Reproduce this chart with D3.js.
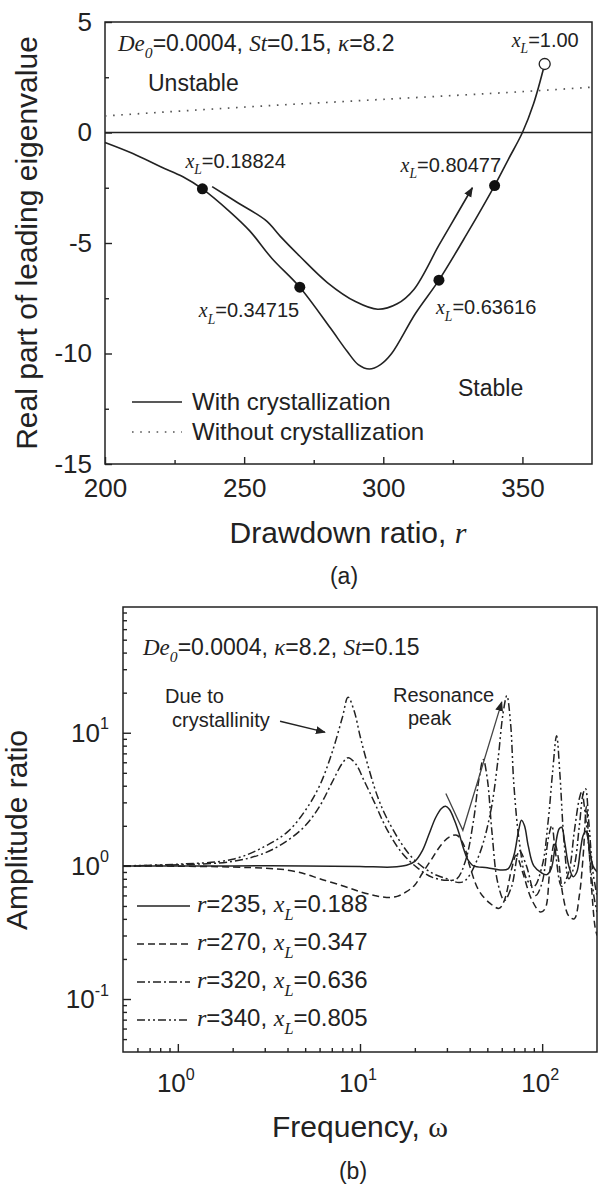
<!DOCTYPE html>
<html>
<head>
<meta charset="utf-8">
<script src="https://cdn.jsdelivr.net/npm/d3@7"></script>
<style>
  body { margin: 0; background: #fff; }
  svg text { font-family: "Liberation Sans", Arial, sans-serif; fill: #222; }
  svg .it { font-family: "Liberation Serif", "Times New Roman", serif; font-style: italic; }
  svg .serif { font-family: "Liberation Serif", "Times New Roman", serif; }
</style>
</head>
<body>
<svg id="fig" width="600" height="1185"></svg>
<script>
// ---- panel (a): leading eigenvalue vs drawdown ratio ----
const rLower = [200, 210, 220, 228, 235, 245, 252, 260, 270, 281, 287, 291, 295, 299, 303, 311.5, 320, 330, 340, 345, 350, 354, 358];
const eigLower = [-0.45, -0.95, -1.55, -2.0, -2.55, -3.6, -4.45, -5.7, -7.0, -8.85, -9.9, -10.5, -10.7, -10.5, -10.0, -8.2, -6.68, -4.6, -2.4, -1.2, 0, 1.3, 3.1];
const rUpper = [238.5, 248, 258, 263, 270, 280, 290, 298, 305, 311, 320, 326, 332];
const eigUpper = [-2.45, -3.2, -4.0, -4.7, -5.6, -6.8, -7.65, -8.0, -7.75, -7.1, -5.1, -3.8, -2.5];
const rNoCrys = [200, 250, 300, 350, 375];
const eigNoCrys = [0.75, 1.15, 1.5, 1.85, 2.05];
const markR = [235, 270, 320, 340];
const markEig = [-2.55, -7.0, -6.68, -2.4];
const markXL = ['0.18824', '0.34715', '0.63616', '0.80477'];
const endR = 358, endEig = 3.1, endXL = '1.00';
const rTicks = [200, 250, 300, 350];
const rMinor = [225, 275, 325];
const eigTicks = [-15, -10, -5, 0, 5];
const eigMinor = [-12.5, -7.5, -2.5, 2.5];

// ---- panel (b): amplitude ratio vs frequency ----
const omegaTicks = [1, 10, 100];
const ampTicks = [0.1, 1, 10];
const ampR235 = [[0.5, 1.0], [1, 1.0], [2, 1.0], [5, 1.0], [10, 0.99], [15, 0.98], [18, 1.01], [20, 1.08], [22, 1.3], [24, 1.75], [26, 2.3], [28, 2.7], [29.5, 2.8], [31, 2.65], [33, 2.2], [35, 1.75], [37, 1.35], [39, 1.12], [42, 1.0], [50, 0.97], [60, 0.93], [65, 0.95], [70, 1.2], [74, 1.8], [77, 2.2], [80, 2.0], [84, 1.4], [90, 1.0], [100, 0.88], [106, 0.86], [112, 0.95], [118, 1.4], [124, 1.9], [128, 1.95], [133, 1.5], [140, 1.0], [148, 0.83], [155, 0.9], [162, 1.3], [168, 1.7], [174, 1.82], [180, 1.5], [190, 1.0], [200, 0.9]];
const ampR270 = [[0.5, 1.0], [1, 0.995], [2, 0.98], [3, 0.96], [4, 0.93], [5, 0.87], [6, 0.8], [8, 0.71], [10, 0.64], [12, 0.6], [14, 0.58], [16, 0.59], [18, 0.64], [20, 0.72], [22, 0.88], [25, 1.15], [28, 1.45], [31, 1.65], [34, 1.7], [37, 1.45], [40, 1.0], [45, 0.65], [52, 0.52], [58, 0.48], [62, 0.55], [68, 0.95], [72, 1.2], [78, 0.9], [88, 0.55], [98, 0.45], [104, 0.48], [110, 0.9], [117, 1.5], [122, 1.2], [130, 0.6], [140, 0.42], [150, 0.4], [160, 0.6], [168, 1.2], [175, 2.8], [180, 1.5], [188, 0.6], [195, 0.35], [200, 0.3]];
const ampR320 = [[0.5, 1.0], [1, 1.02], [2, 1.08], [3, 1.25], [4, 1.55], [5, 2.0], [6, 2.8], [7, 4.2], [8, 5.9], [8.6, 6.5], [9.5, 5.8], [10.5, 4.4], [12, 3.0], [14, 1.9], [17, 1.25], [21, 0.95], [25, 0.82], [30, 0.78], [34, 0.8], [38, 1.1], [42, 2.2], [45, 4.5], [47.5, 6.3], [50, 4.5], [53, 1.8], [57, 0.75], [62, 0.55], [68, 0.7], [75, 1.3], [82, 1.0], [92, 0.6], [100, 0.75], [108, 1.6], [113, 2.0], [118, 1.3], [128, 0.7], [140, 0.9], [150, 1.8], [160, 3.2], [165, 3.6], [172, 2.5], [182, 1.2], [192, 0.6], [200, 0.45]];
const ampR340 = [[0.5, 1.0], [1, 1.03], [2, 1.12], [3, 1.4], [4, 1.8], [5, 2.6], [6, 4.0], [7, 7.0], [8, 13], [8.6, 18.5], [9.3, 14.5], [10, 9.5], [11, 5.8], [12.5, 3.3], [14, 2.3], [17, 1.45], [20, 1.1], [25, 0.88], [30, 0.8], [35, 0.75], [38, 0.78], [45, 1.2], [52, 2.5], [57, 6], [61, 14], [64, 19], [67, 12], [70, 4], [75, 1.5], [82, 0.8], [90, 0.7], [100, 1.0], [108, 2.2], [114, 5], [120, 9.5], [125, 5], [132, 1.5], [140, 0.8], [150, 1.0], [160, 2.0], [168, 3.5], [173, 3.8], [180, 2.2], [190, 0.9], [200, 0.6]];
const ampLegendR = ['235', '270', '320', '340'];
const ampLegendXL = ['0.188', '0.347', '0.636', '0.805'];
const dueArrow = [[3.64, 12.2], [6.42, 10.1]];
const resArrow = [[29.6, 3.5], [36.7, 1.85], [60, 17]];

const ink = '#222';
const dotted = '1.6,6.6';
const svg = d3.select('#fig');

svg.append('defs').append('marker')
  .attr('id', 'head')
  .attr('viewBox', '0 0 10 10')
  .attr('refX', 9).attr('refY', 5)
  .attr('markerWidth', 10).attr('markerHeight', 10)
  .attr('markerUnits', 'userSpaceOnUse')
  .attr('orient', 'auto')
  .append('path').attr('d', 'M0,1 L10,5 L0,9 Z').attr('fill', ink);

// text with italic / sub / superscript pieces: [text, style, position]
function rich(g, x, y, parts, size, anchor) {
  const t = g.append('text').attr('x', x).attr('y', y).attr('font-size', size);
  if (anchor) t.attr('text-anchor', anchor);
  let shift = 0;
  parts.forEach(([txt, style, pos]) => {
    const s = t.append('tspan').text(txt);
    if (style) s.attr('class', style);
    let want = 0;
    if (pos === 'sub') { want = size * 0.32; s.attr('font-size', size * 0.68); }
    if (pos === 'sup') { want = -size * 0.48; s.attr('font-size', size * 0.62); }
    if (want !== shift) s.attr('dy', want - shift);
    shift = want;
  });
  return t;
}

function styleAxis(g) {
  g.select('.domain').remove();
  g.selectAll('line').attr('stroke', ink).attr('stroke-width', 1.4);
  g.attr('font-family', null).attr('font-size', null);
}

function frame(g, x, y) {
  g.append('rect')
    .attr('x', x.range()[0]).attr('y', y.range()[1])
    .attr('width', x.range()[1] - x.range()[0])
    .attr('height', y.range()[0] - y.range()[1])
    .attr('fill', 'none').attr('stroke', ink).attr('stroke-width', 1.5);
}

// ================= panel (a) =================
const xA = d3.scaleLinear([200, 375], [105, 592]);
const yA = d3.scaleLinear([-15, 5], [464, 22]);
const gA = svg.append('g');

gA.append('g').attr('transform', `translate(0,${yA(-15)})`)
  .call(d3.axisBottom(xA).tickValues(rTicks).tickSize(-7).tickSizeOuter(0).tickPadding(15).tickFormat(d => d))
  .call(styleAxis)
  .selectAll('text').attr('font-size', 26).attr('fill', ink);
gA.append('g').attr('transform', `translate(0,${yA(-15)})`)
  .call(d3.axisBottom(xA).tickValues(rMinor).tickSize(-4).tickSizeOuter(0).tickFormat(''))
  .call(styleAxis);
gA.append('g').attr('transform', `translate(${xA(200)},0)`)
  .call(d3.axisLeft(yA).tickValues(eigTicks).tickSize(-7).tickSizeOuter(0).tickPadding(13).tickFormat(d => String(d)))
  .call(styleAxis)
  .selectAll('text').attr('font-size', 26).attr('fill', ink);
gA.append('g').attr('transform', `translate(${xA(200)},0)`)
  .call(d3.axisLeft(yA).tickValues(eigMinor).tickSize(-4).tickSizeOuter(0).tickFormat(''))
  .call(styleAxis);
frame(gA, xA, yA);

// zero line
gA.append('line')
  .attr('x1', xA(200)).attr('x2', xA(375)).attr('y1', yA(0)).attr('y2', yA(0))
  .attr('stroke', ink).attr('stroke-width', 1.5);

const lineA = d3.line().x(d => xA(d[0])).y(d => yA(d[1])).curve(d3.curveCatmullRom);
gA.append('path').datum(d3.zip(rNoCrys, eigNoCrys)).attr('d', lineA)
  .attr('fill', 'none').attr('stroke', '#555').attr('stroke-width', 1.7).attr('stroke-dasharray', dotted);
gA.append('path').datum(d3.zip(rLower, eigLower)).attr('d', lineA)
  .attr('fill', 'none').attr('stroke', ink).attr('stroke-width', 1.6);
gA.append('path').datum(d3.zip(rUpper, eigUpper)).attr('d', lineA)
  .attr('fill', 'none').attr('stroke', ink).attr('stroke-width', 1.6).attr('marker-end', 'url(#head)');

gA.selectAll('circle.mark').data(d3.zip(markR, markEig)).join('circle')
  .attr('class', 'mark').attr('cx', d => xA(d[0])).attr('cy', d => yA(d[1])).attr('r', 5.5).attr('fill', '#111');
gA.append('circle').attr('cx', xA(endR)).attr('cy', yA(endEig)).attr('r', 5.5)
  .attr('fill', '#fff').attr('stroke', ink).attr('stroke-width', 1.3);

// x_L labels, offset from their markers
const markOffsets = [[-17, -21], [-101, 30], [-3, 34], [-94, -14]];
markR.forEach((r, i) => {
  rich(gA, xA(r) + markOffsets[i][0], yA(markEig[i]) + markOffsets[i][1],
    [['x', 'it'], ['L', 'it', 'sub'], ['=' + markXL[i]]], 20);
});
rich(gA, xA(endR) - 33, yA(endEig) - 17, [['x', 'it'], ['L', 'it', 'sub'], ['=' + endXL]], 20);

rich(gA, 118, 51, [['De', 'it'], ['0', 'it', 'sub'], ['=0.0004, '], ['St', 'it'], ['=0.15, '], ['κ', 'it'], ['=8.2']], 23);
gA.append('text').attr('x', 148).attr('y', 91).attr('font-size', 23).text('Unstable');
gA.append('text').attr('x', 458).attr('y', 396).attr('font-size', 23).text('Stable');

// legend (a)
gA.append('line').attr('x1', 132).attr('x2', 182).attr('y1', 402).attr('y2', 402).attr('stroke', ink).attr('stroke-width', 1.6);
gA.append('line').attr('x1', 132).attr('x2', 182).attr('y1', 432).attr('y2', 432)
  .attr('stroke', '#555').attr('stroke-width', 1.7).attr('stroke-dasharray', dotted);
gA.append('text').attr('x', 192).attr('y', 410).attr('font-size', 24).text('With crystallization');
gA.append('text').attr('x', 192).attr('y', 440).attr('font-size', 24).text('Without crystallization');

rich(gA, 348, 543, [['Drawdown ratio, '], ['r', 'it']], 30, 'middle');
gA.append('text').attr('transform', 'translate(37,243) rotate(-90)').attr('text-anchor', 'middle')
  .attr('font-size', 30).text('Real part of leading eigenvalue');
gA.append('text').attr('x', 344).attr('y', 584).attr('text-anchor', 'middle').attr('font-size', 23).text('(a)');

// ================= panel (b) =================
const xB = d3.scaleLog([0.5, 200], [123, 597]);
const yB = d3.scaleLog([0.04, 88], [1052, 607]);
const gB = svg.append('g');

const decadeMinor = (lo, hi) => {
  const out = [];
  for (let e = -2; e <= 2; e++) for (let m = 2; m <= 9; m++) {
    const v = m * Math.pow(10, e);
    if (v > lo * 1.001 && v < hi * 0.999) out.push(v);
  }
  return out;
};

gB.append('g').attr('transform', `translate(0,${yB.range()[0]})`)
  .call(d3.axisBottom(xB).tickValues(omegaTicks).tickSize(-8).tickSizeOuter(0).tickFormat(''))
  .call(styleAxis);
gB.append('g').attr('transform', `translate(0,${yB.range()[0]})`)
  .call(d3.axisBottom(xB).tickValues(decadeMinor(0.5, 200)).tickSize(-4).tickSizeOuter(0).tickFormat(''))
  .call(styleAxis);
gB.append('g').attr('transform', `translate(${xB.range()[0]},0)`)
  .call(d3.axisLeft(yB).tickValues(ampTicks).tickSize(-8).tickSizeOuter(0).tickFormat(''))
  .call(styleAxis);
gB.append('g').attr('transform', `translate(${xB.range()[0]},0)`)
  .call(d3.axisLeft(yB).tickValues(decadeMinor(0.04, 88)).tickSize(-4).tickSizeOuter(0).tickFormat(''))
  .call(styleAxis);
frame(gB, xB, yB);

omegaTicks.forEach(v => {
  rich(gB, xB(v) - 2, 1092, [['10'], [String(Math.round(Math.log10(v))), null, 'sup']], 26, 'middle');
});
ampTicks.forEach(v => {
  rich(gB, xB.range()[0] - 14, yB(v) + 9, [['10'], [String(Math.round(Math.log10(v))), null, 'sup']], 26, 'end');
});

const lineB = d3.line().x(d => xB(d[0])).y(d => yB(d[1])).curve(d3.curveCatmullRom);
const ampSeries = [ampR235, ampR270, ampR320, ampR340];
const dashes = [null, '7,4', '8,3,2,3', '8,3,2,3,2,3'];

const clipB = svg.select('defs').append('clipPath').attr('id', 'clipB');
clipB.append('rect').attr('x', xB.range()[0]).attr('y', yB.range()[1])
  .attr('width', xB.range()[1] - xB.range()[0]).attr('height', yB.range()[0] - yB.range()[1]);

gB.append('g').attr('clip-path', 'url(#clipB)')
  .selectAll('path').data(ampSeries).join('path')
  .attr('d', lineB)
  .attr('fill', 'none').attr('stroke', ink).attr('stroke-width', 1.5)
  .attr('stroke-dasharray', (d, i) => dashes[i]);

// legend (b)
ampLegendR.forEach((r, i) => {
  const y = 912 + i * 38;
  gB.append('line').attr('x1', 137).attr('x2', 190).attr('y1', y - 6).attr('y2', y - 6)
    .attr('stroke', ink).attr('stroke-width', 1.5).attr('stroke-dasharray', dashes[i]);
  rich(gB, 197, y, [['r', 'it'], ['=' + r + ', '], ['x', 'it'], ['L', 'it', 'sub'], ['=' + ampLegendXL[i]]], 24);
});

rich(gB, 143, 655, [['De', 'it'], ['0', 'it', 'sub'], ['=0.0004, '], ['κ', 'it'], ['=8.2, '], ['St', 'it'], ['=0.15']], 23);

gB.append('text').attr('x', 165).attr('y', 703).attr('font-size', 20).text('Due to');
gB.append('text').attr('x', 172).attr('y', 727).attr('font-size', 20).text('crystallinity');
gB.append('text').attr('x', 393).attr('y', 702).attr('font-size', 20).text('Resonance');
gB.append('text').attr('x', 408).attr('y', 725).attr('font-size', 20).text('peak');

const arrowLine = d3.line().x(d => xB(d[0])).y(d => yB(d[1]));
gB.append('path').datum(dueArrow).attr('d', arrowLine)
  .attr('fill', 'none').attr('stroke', ink).attr('stroke-width', 1.3).attr('marker-end', 'url(#head)');
gB.append('path').datum(resArrow).attr('d', arrowLine)
  .attr('fill', 'none').attr('stroke', '#444').attr('stroke-width', 1.3).attr('marker-end', 'url(#head)');

rich(gB, 360, 1137, [['Frequency, '], ['ω', 'serif']], 30, 'middle');
gB.append('text').attr('transform', 'translate(27,830) rotate(-90)').attr('text-anchor', 'middle')
  .attr('font-size', 30).text('Amplitude ratio');
gB.append('text').attr('x', 353).attr('y', 1179).attr('text-anchor', 'middle').attr('font-size', 23).text('(b)');
</script>
</body>
</html>
